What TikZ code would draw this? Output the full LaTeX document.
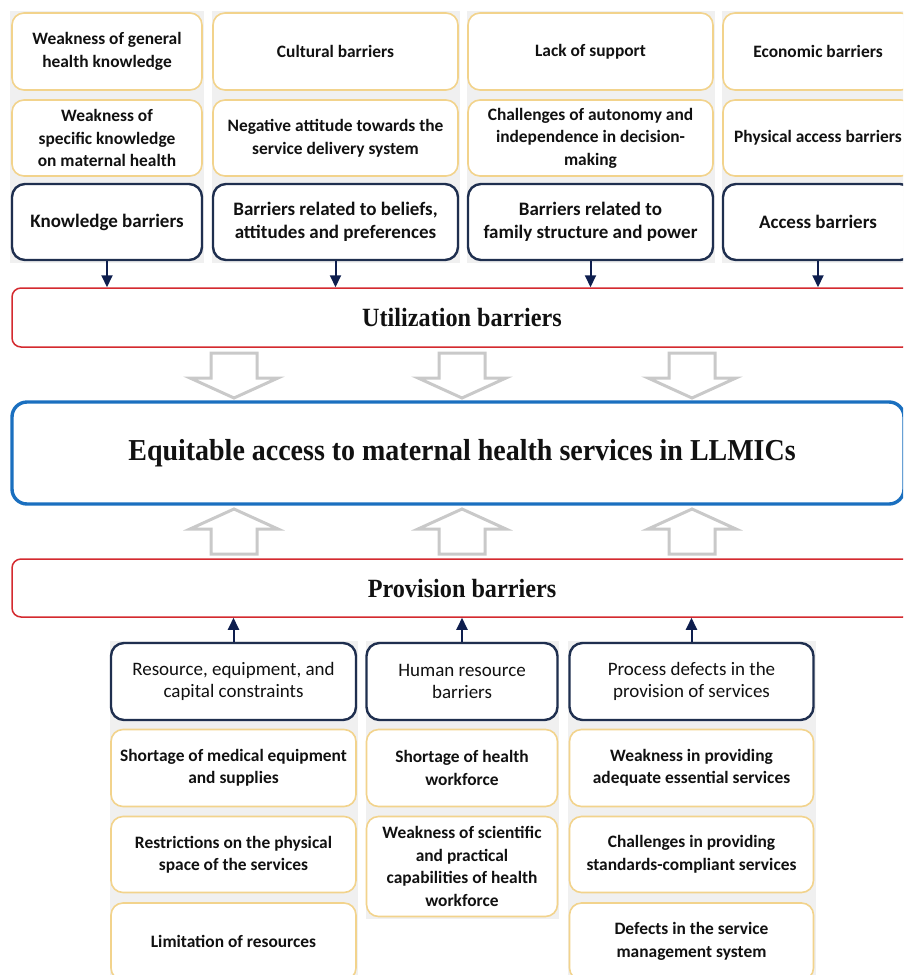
\documentclass[tikz,border=0pt]{standalone}
\usepackage{fontspec}
\setmainfont{Carlito}
\newfontfamily\titlefont[FakeStretch=0.92]{Liberation Serif}
\usetikzlibrary{arrows.meta}

\definecolor{panelgrey}{HTML}{F0F0F0}
\definecolor{goldline}{HTML}{F2D38C}
\definecolor{navy}{HTML}{1F2F4F}
\definecolor{arrownavy}{HTML}{0E1E4E}
\definecolor{barred}{HTML}{D42A2F}
\definecolor{mainblue}{HTML}{1A6FBF}
\definecolor{hollowgrey}{HTML}{C9C9C9}
\definecolor{ink}{HTML}{111111}

\tikzset{
  boxsize/.style 2 args={minimum width=#1pt, minimum height=#2pt, inner sep=0pt},
  item/.style={draw=goldline, line width=1.6pt, fill=white, rounded corners=12pt,
    align=center, text=ink, font=\fontsize{17.4}{22.5}\selectfont\bfseries},
  theme/.style={draw=navy, line width=2.4pt, fill=white, rounded corners=13pt,
    align=center, text=ink, font=\fontsize{19}{23}\selectfont\bfseries},
  themelight/.style={theme, font=\fontsize{19}{22}\selectfont},
  bar/.style={draw=barred, line width=1.5pt, fill=white, rounded corners=9pt,
    text=ink, font=\titlefont\bfseries\fontsize{26.3}{30}\selectfont},
  goal/.style={draw=mainblue, line width=3.4pt, fill=white, rounded corners=15pt,
    text=ink, font=\titlefont\bfseries\fontsize{30.4}{35}\selectfont},
  feed/.style={draw=arrownavy, line width=2pt, -{Triangle[width=11pt,length=12pt]}},
  block/.style={draw=hollowgrey, line width=3pt, fill=white, line join=miter},
  panel/.style={fill=panelgrey, draw=none},
}

\begin{document}
\begin{tikzpicture}[x=1pt, y=-1pt]
\useasboundingbox (0,0) rectangle (903,975);
\clip (0,0) rectangle (903,975);

% background panels of the columns
\fill[panel] (10,11) rectangle (204,263);
\fill[panel] (211.5,11) rectangle (459.5,263);
\fill[panel] (466.5,11) rectangle (714.5,263);
\fill[panel] (721.5,11) rectangle (915,263);
\fill[panel] (109.5,641) rectangle (357.5,980);
\fill[panel] (365.5,641) rectangle (559,918.5);
\fill[panel] (567.5,641) rectangle (815.5,980);

% utilization side: knowledge
\node[item, boxsize={190}{77}] (k1) at (107,51.5) {Weakness of general\\health knowledge};
\node[item, boxsize={190}{76}] (k2) at (107,138) {Weakness of\\specific knowledge\\on maternal health};
\node[theme, boxsize={190}{76}] (k) at (107,222) {Knowledge barriers};

% beliefs and attitudes
\node[item, boxsize={245}{77}] (b1) at (335.5,51.5) {Cultural barriers};
\node[item, boxsize={245}{76}] (b2) at (335.5,138) {Negative attitude towards the\\service delivery system};
\node[theme, boxsize={245}{76}] (b) at (335.5,222) {Barriers related to beliefs,\\attitudes and preferences};

% family structure
\node[item, boxsize={245}{77}] (f1) at (590.5,51.5) {Lack of support};
\node[item, boxsize={245}{76}] (f2) at (590.5,138) {Challenges of autonomy and\\independence in decision-\\making};
\node[theme, boxsize={245}{76}] (f) at (590.5,222) {Barriers related to\\family structure and power};

% access
\node[item, boxsize={190}{77}] (a1) at (818,51.5) {Economic barriers};
\node[item, boxsize={190}{76}] (a2) at (818,138) {Physical access barriers};
\node[theme, boxsize={190}{76}] (a) at (818,222) {Access barriers};

% central band
\node[bar, boxsize={900}{59}] (util) at (462,317.5) {Utilization barriers};
\node[goal, boxsize={892}{102}] (goal) at (458,453) {\hspace*{8pt}Equitable access to maternal health services in LLMICs};
\node[bar, boxsize={900}{58}] (prov) at (462,588) {Provision barriers};

% provision side: resources
\node[themelight, boxsize={245}{77}] (r) at (233.5,681.5) {Resource, equipment, and\\capital constraints};
\node[item, boxsize={245}{77}] (r1) at (233.5,768) {Shortage of medical equipment\\and supplies};
\node[item, boxsize={245}{76}] (r2) at (233.5,854.5) {Restrictions on the physical\\space of the services};
\node[item, boxsize={245}{77}] (r3) at (233.5,941.5) {Limitation of resources};

% human resources
\node[themelight, boxsize={191}{77}] (h) at (462,681.5) {Human resource\\barriers};
\node[item, boxsize={191}{77}] (h1) at (462,768) {Shortage of health\\workforce};
\node[item, boxsize={191}{100}] (h2) at (462,866.5) {Weakness of scientific\\and practical\\capabilities of health\\workforce};

% process defects
\node[themelight, boxsize={244}{77}] (p) at (691.5,681.5) {Process defects in the\\provision of services};
\node[item, boxsize={244}{77}] (p1) at (691.5,768) {Weakness in providing\\adequate essential services};
\node[item, boxsize={244}{76}] (p2) at (691.5,854.5) {Challenges in providing\\standards-compliant services};
\node[item, boxsize={244}{77}] (p3) at (691.5,941.5) {Defects in the service\\management system};

% feeding arrows
\foreach \n in {k,b,f,a}
  \draw[feed] (\n.south) -- (\n.south |- util.north);
\foreach \n in {r,h,p}
  \draw[feed] (\n.north) -- (\n.north |- prov.south);

% hollow block arrows towards the goal
\foreach \cx in {234,462,692} {
  \draw[block] ({\cx-23},353) -- ({\cx+23},353) -- ({\cx+23},378) -- ({\cx+44},378)
    -- (\cx,398) -- ({\cx-44},378) -- ({\cx-23},378) -- cycle;
  \draw[block] ({\cx-23},554) -- ({\cx+23},554) -- ({\cx+23},529) -- ({\cx+44},529)
    -- (\cx,509) -- ({\cx-44},529) -- ({\cx-23},529) -- cycle;
}
\end{tikzpicture}
\end{document}
